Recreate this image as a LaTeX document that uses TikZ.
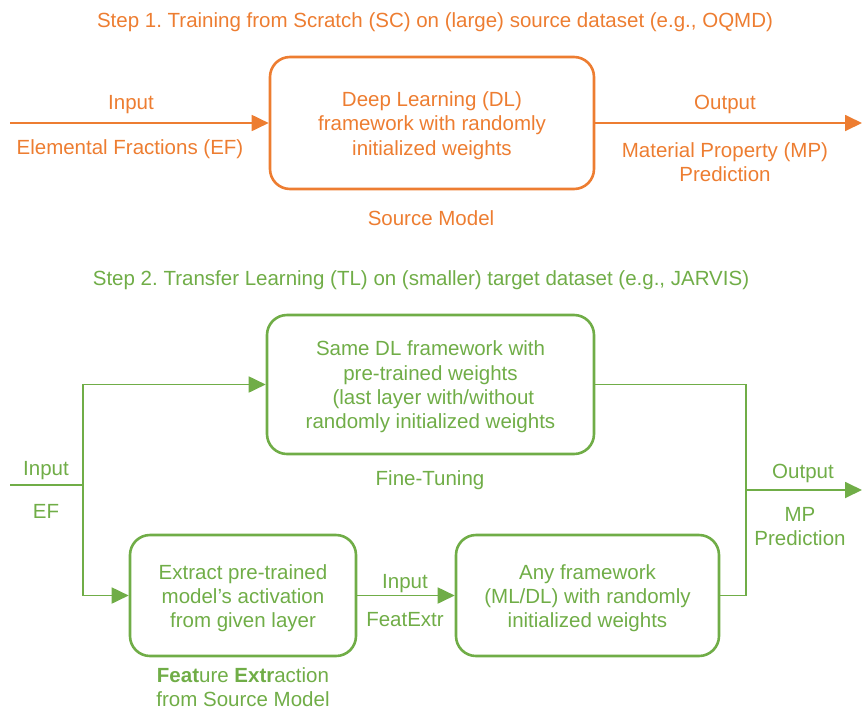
\documentclass[tikz,border=0pt]{standalone}
\usepackage{fontspec}
\setmainfont{Liberation Sans}
\usetikzlibrary{arrows.meta}
\definecolor{orng}{HTML}{ED7D31}
\definecolor{grn}{HTML}{70AD47}
\frenchspacing
\begin{document}
\begin{tikzpicture}[x=1pt,y=-1pt, font=\fontsize{20.5}{24.3}\selectfont,
  box/.style={draw, line width=2.6pt, rounded corners=20pt, inner sep=0pt},
  lbl/.style={align=center, inner sep=0pt, yshift=-2.5pt},
  conn/.style={line width=1.8pt},
  arr/.style={conn, -{Triangle[length=17pt,width=16pt]}}]
\useasboundingbox (0,0) rectangle (862,710);
% Step 1
\node[lbl, orng] (t1) at (435,20) {Step 1. Training from Scratch (SC) on (large) source dataset (e.g., OQMD)};
\node[box, orng, minimum width=324pt, minimum height=132pt] (src) at (432,123) {};
\node[lbl, orng] (srct) at (src.center) {Deep Learning (DL)\\framework with randomly\\initialized weights};
\node[lbl, orng] (srcl) at (431,216) {Source Model};
\coordinate (inL) at (10,123);
\coordinate (outR) at (862,123);
\draw[arr, orng] (inL) -- (src.west);
\draw[arr, orng] (src.east) -- (outR);
\node[lbl, orng] (in1) at (131,102) {Input};
\node[lbl, orng] (ef1) at (130,147) {Elemental Fractions (EF)};
\node[lbl, orng] (out1) at (725,102) {Output};
\node[lbl, orng] (mp1) at (725,160) {Material Property (MP)\\Prediction};
% Step 2
\node[lbl, grn] (t2) at (421,278) {Step 2. Transfer Learning (TL) on (smaller) target dataset (e.g., JARVIS)};
\node[box, grn, minimum width=327pt, minimum height=139pt] (ft) at (430.5,384.5) {};
\node[lbl, grn] (ftt) at (ft.center) {Same DL framework with\\pre-trained weights\\\ (last layer with/without\\randomly initialized weights};
\node[lbl, grn] (ftl) at (430,478) {Fine-Tuning};
\node[box, grn, minimum width=226pt, minimum height=121pt] (fe) at (243,595.5) {};
\node[lbl, grn] (fet) at (fe.center) {Extract pre-trained\\model’s activation\\from given layer};
\node[lbl, grn] (fel) at (243,685) {\textbf{Feat}ure \textbf{Extr}action\\from Source Model};
\node[box, grn, minimum width=263pt, minimum height=121pt] (any) at (587.5,595.5) {};
\node[lbl, grn] (anyt) at (any.center) {Any framework\\(ML/DL) with randomly\\initialized weights};
\coordinate (inE) at (10,485);
\coordinate (j) at (83,485);
\draw[conn, grn] (inE) -- (j);
\draw[arr, grn] (j) |- (ft.west);
\draw[arr, grn] (j) |- (fe.west);
\draw[arr, grn] (fe.east) -- (any.west);
\coordinate (r) at (746,490);
\coordinate (outE) at (862,490);
\draw[conn, grn] (ft.east) -| (r);
\draw[conn, grn] (any.east) -| (r);
\draw[arr, grn] (r) -- (outE);
\node[lbl, grn] (in2) at (46,468) {Input};
\node[lbl, grn] (ef2) at (46,509) {EF};
\node[lbl, grn] (in3) at (405,581) {Input};
\node[lbl, grn] (fx) at (405,617) {FeatExtr};
\node[lbl, grn] (out2) at (803,471) {Output};
\node[lbl, grn] (mp2) at (800,524) {MP\\Prediction};
\end{tikzpicture}
\end{document}
